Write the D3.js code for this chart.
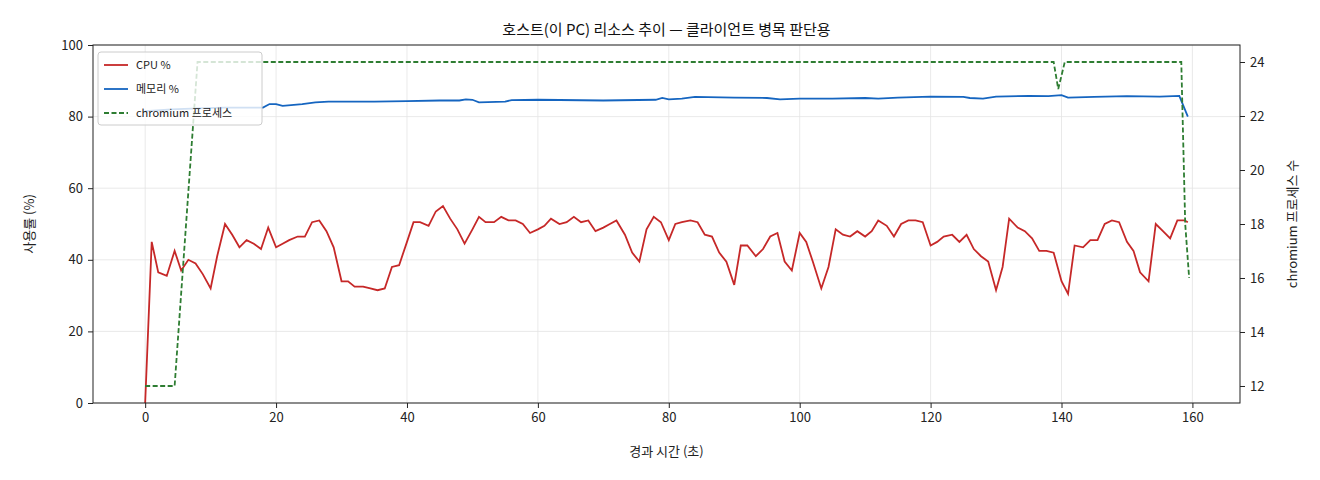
<!DOCTYPE html>
<html><head><meta charset="utf-8">
<script src="https://cdn.jsdelivr.net/npm/d3@7"></script>
<style>body{margin:0;background:#fff;font-family:"Noto Sans CJK KR","DejaVu Sans",sans-serif;}</style>
</head><body><div id="chart"></div>
<script>
// CPU %, sampled about every 1.1 s
const cpuT = [0,1,2,3.3,4.5,5.5,6.6,7.7,8.8,10,11,12.2,13.3,14.4,15.5,16.6,17.7,18.8,20,21,22,23.3,24.4,25.5,26.6,27.7,28.8,30,31,32,33.3,34.4,35.5,36.6,37.7,38.8,40,41,42,43.3,44.4,45.5,46.6,47.7,48.8,50,51,52,53.3,54.4,55.5,56.6,57.7,58.8,60,61,62,63.3,64.4,65.5,66.6,67.7,68.8,70,71,72,73.3,74.4,75.5,76.6,77.7,78.8,80,81,82,83.3,84.4,85.5,86.6,87.7,88.8,90,91,92,93.3,94.4,95.5,96.6,97.7,98.8,100,101,102,103.3,104.4,105.5,106.6,107.7,108.8,110,111,112,113.3,114.4,115.5,116.6,117.7,118.8,120,121,122,123.3,124.4,125.5,126.6,127.7,128.8,130,131,132,133.3,134.4,135.5,136.6,137.7,138.8,140,141,142,143.3,144.4,145.5,146.6,147.7,148.8,150,151,152,153.3,154.4,155.5,156.6,157.7,158.8,159.3];
const cpu = [0,45,36.5,35.5,42.5,37,40,39,36,32,41,50,47,43.5,45.5,44.5,43,49,43.5,44.5,45.5,46.5,46.5,50.5,51,48,43.5,34,34,32.5,32.5,32,31.5,32,38,38.5,45,50.5,50.5,49.5,53.5,55,51.5,48.5,44.5,48.5,52,50.5,50.5,52,51,51,50,47.5,48.5,49.5,51.5,50,50.5,52,50.5,51,48,49,50,51,47,42,39.5,48.5,52,50.5,45.5,50,50.5,51,50.5,47,46.5,42,39.5,33,44,44,41,43,46.5,47.5,39.5,37,47.5,45,39.5,32,38,48.5,47,46.5,48,46.5,48,51,49.5,46.5,50,51,51,50.5,44,45,46.5,47,45,47,43,41,39.5,31.5,38,51.5,49,48,46,42.5,42.5,42,34,30.5,44,43.5,45.5,45.5,50,51,50.5,45,42.5,36.5,34,50,48,46,51,51,50.5];
// memory %
const memT = [0,4,8,12,16,18,19,20,21,24,26,28,35,40,45,48,49,50,51,55,56,60,70,78,79,80,82,84,90,95,97,100,105,110,112,115,120,125,126,128,130,135,138,140,141,145,150,155,158,159.3];
const mem = [81.5,82,82.3,82.5,82.5,82.5,83.5,83.5,83,83.5,84,84.2,84.2,84.3,84.5,84.5,84.8,84.7,84,84.2,84.6,84.7,84.5,84.7,85.2,84.8,85,85.5,85.3,85.2,84.8,85,85,85.2,85,85.3,85.6,85.5,85.2,85,85.6,85.8,85.7,86,85.3,85.5,85.7,85.6,85.8,80];
// chromium process count
const procT = [0,1.1,2.2,3.3,4.5,8,138.8,139.5,140.5,158.3,158.9,159.5];
const proc = [12,12,12,12,12,24,24,23,24,24,18,16];

const xTicks = [0,20,40,60,80,100,120,140,160];
const yTicks = [0,20,40,60,80,100];
const y2Ticks = [12,14,16,18,20,22,24];

const W = 1320, H = 480;
const m = {top:45, right:80, bottom:77, left:93};
const w = W - m.left - m.right, h = H - m.top - m.bottom;

const svg = d3.select("#chart").append("svg").attr("width", W).attr("height", H);
const g = svg.append("g").attr("transform", `translate(${m.left},${m.top})`);

const x = d3.scaleLinear().domain([-7.97, 167.27]).range([0, w]);
const y = d3.scaleLinear().domain([0, 100]).range([h, 0]);
const y2 = d3.scaleLinear().domain([11.37, 24.63]).range([h, 0]);

// grid
g.append("g").selectAll("line").data(xTicks).enter().append("line")
  .attr("x1", d => x(d)).attr("x2", d => x(d)).attr("y1", 0).attr("y2", h)
  .attr("stroke", "#e3e3e3").attr("stroke-width", 0.8);
g.append("g").selectAll("line").data(yTicks).enter().append("line")
  .attr("x1", 0).attr("x2", w).attr("y1", d => y(d)).attr("y2", d => y(d))
  .attr("stroke", "#e3e3e3").attr("stroke-width", 0.8);

const line = (xs, sc) => d3.line().x((d, i) => x(xs[i])).y(d => sc(d));

g.append("path").datum(cpu).attr("fill", "none").attr("stroke", "#c62828")
  .attr("stroke-width", 1.8).attr("d", line(cpuT, y));
g.append("path").datum(mem).attr("fill", "none").attr("stroke", "#1565c0")
  .attr("stroke-width", 1.8).attr("d", line(memT, y));
g.append("path").datum(proc).attr("fill", "none").attr("stroke", "#2e7d32")
  .attr("stroke-width", 1.8).attr("stroke-dasharray", "5,2.5").attr("d", line(procT, y2));

// axes
const styleAxis = sel => {
  sel.selectAll("text").attr("font-size", 13).attr("fill", "#222")
    .attr("font-family", "'Noto Sans CJK KR','DejaVu Sans',sans-serif");
  sel.selectAll("line").attr("stroke", "#222");
  sel.select(".domain").remove();
};
g.append("g").attr("transform", `translate(0,${h})`)
  .call(d3.axisBottom(x).tickValues(xTicks).tickSize(5).tickPadding(5)).call(styleAxis);
g.append("g").call(d3.axisLeft(y).tickValues(yTicks).tickSize(5).tickPadding(5)).call(styleAxis);
g.append("g").attr("transform", `translate(${w},0)`)
  .call(d3.axisRight(y2).tickValues(y2Ticks).tickSize(5).tickPadding(5)).call(styleAxis);
g.append("rect").attr("width", w).attr("height", h).attr("fill", "none").attr("stroke", "#222").attr("stroke-width", 1);

// labels
svg.append("text").attr("x", m.left + w / 2).attr("y", 35).attr("text-anchor", "middle")
  .attr("font-size", 15).attr("fill", "#111").text("호스트(이 PC) 리소스 추이 — 클라이언트 병목 판단용");
svg.append("text").attr("x", m.left + w / 2).attr("y", 456).attr("text-anchor", "middle")
  .attr("font-size", 13).attr("fill", "#222").text("경과 시간 (초)");
svg.append("text").attr("transform", `translate(34,${m.top + h / 2}) rotate(-90)`).attr("text-anchor", "middle")
  .attr("font-size", 13).attr("fill", "#222").text("사용률 (%)");
svg.append("text").attr("transform", `translate(1297,${m.top + h / 2}) rotate(-90)`).attr("text-anchor", "middle")
  .attr("font-size", 13).attr("fill", "#222").text("chromium 프로세스 수");

// legend
const legendItems = [
  {name: "CPU %", color: "#c62828", dash: null},
  {name: "메모리 %", color: "#1565c0", dash: null},
  {name: "chromium 프로세스", color: "#2e7d32", dash: "5,2.5"}
];
const lg = g.append("g").attr("transform", "translate(5,7)");
lg.append("rect").attr("width", 164).attr("height", 73).attr("rx", 3)
  .attr("fill", "white").attr("fill-opacity", 0.8).attr("stroke", "#ccc");
legendItems.forEach((d, i) => {
  lg.append("line").attr("x1", 6).attr("x2", 30).attr("y1", 13 + i * 24).attr("y2", 13 + i * 24)
    .attr("stroke", d.color).attr("stroke-width", 1.8).attr("stroke-dasharray", d.dash);
  lg.append("text").attr("x", 38).attr("y", 13 + i * 24).attr("dy", "0.35em")
    .attr("font-size", 11).attr("fill", "#222").text(d.name);
});
</script></body></html>
